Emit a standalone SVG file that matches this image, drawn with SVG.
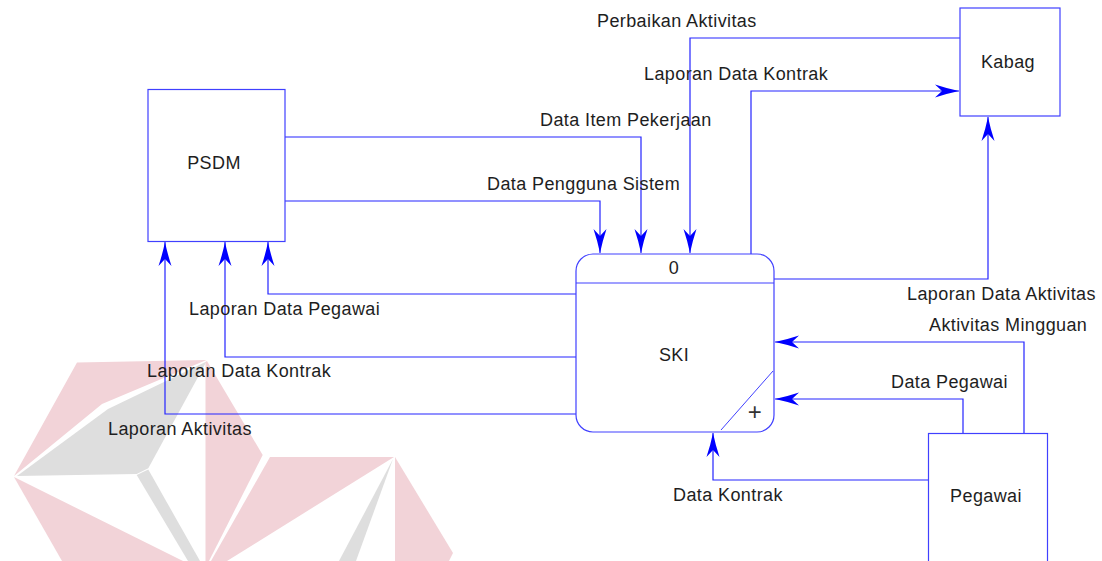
<svg xmlns="http://www.w3.org/2000/svg" width="1102" height="561" viewBox="0 0 1102 561">
<style>
.t{font-family:"Liberation Sans",Arial,Helvetica,sans-serif;font-size:18px;letter-spacing:0.4px;fill:#1e1e1e}
.c{text-anchor:middle}
.box{fill:none;stroke:#4040ff;stroke-width:1.2}
.ln{fill:none;stroke:#2424ff;stroke-width:1.2}
.pk{fill:#f2d3d8}
.gy{fill:#dedede}
</style>
<defs>
<marker id="arr" markerUnits="userSpaceOnUse" markerWidth="26" markerHeight="16" viewBox="0 0 26 16" refX="25" refY="8" orient="auto">
<path d="M25,8 Q13,5.5 1,1.5 L8,8 L1,14.5 Q13,10.5 25,8 Z" fill="#0000ff"/>
</marker>
</defs>
<rect width="1102" height="561" fill="#ffffff"/>
<g id="watermark">
<polygon class="pk" points="77,362.5 206.5,360 102,404 14,476"/>
<polygon class="gy" points="206.5,361.5 108,409 17,476 136.7,474 148.3,468.3"/>
<polygon class="pk" points="14,477 183,561 62,561"/>
<polygon class="gy" points="136.7,475 148.3,469.5 200,561 188,561"/>
<polygon class="pk" points="207,361 262.7,455 209,561 205.5,561 205.5,362"/>
<polygon class="pk" points="270,457 394,457 227,561 211,561"/>
<polygon class="gy" points="393,459 356,561 339,561"/>
<polygon class="pk" points="395,457 453,553 449,561 395,561"/>
</g>
<g id="connectors">
<path class="ln" d="M285,137 H641 V253" marker-end="url(#arr)"/>
<path class="ln" d="M285,201 H600 V253" marker-end="url(#arr)"/>
<path class="ln" d="M960,38 H690 V253" marker-end="url(#arr)"/>
<path class="ln" d="M751,254 V91 H959" marker-end="url(#arr)"/>
<path class="ln" d="M774,279 H988 V117" marker-end="url(#arr)"/>
<path class="ln" d="M1024,433 V342 H775" marker-end="url(#arr)"/>
<path class="ln" d="M963,433 V399 H775" marker-end="url(#arr)"/>
<path class="ln" d="M928,480 H713 V433" marker-end="url(#arr)"/>
<path class="ln" d="M576,294 H268 V242" marker-end="url(#arr)"/>
<path class="ln" d="M576,357 H225 V242" marker-end="url(#arr)"/>
<path class="ln" d="M576,414 H165 V242" marker-end="url(#arr)"/>
<text class="t" x="540" y="126">Data Item Pekerjaan</text>
<text class="t" x="487" y="190">Data Pengguna Sistem</text>
<text class="t" x="597" y="27">Perbaikan Aktivitas</text>
<text class="t" x="644" y="80">Laporan Data Kontrak</text>
<text class="t" x="907" y="300">Laporan Data Aktivitas</text>
<text class="t" x="929" y="331">Aktivitas Mingguan</text>
<text class="t" x="891" y="388">Data Pegawai</text>
<text class="t" x="673" y="501">Data Kontrak</text>
<text class="t" x="189" y="315">Laporan Data Pegawai</text>
<text class="t" x="147" y="377">Laporan Data Kontrak</text>
<text class="t" x="108" y="435">Laporan Aktivitas</text>
</g>
<g id="psdm">
<rect class="box" x="148" y="89.5" width="137" height="152"/>
<text class="t c" x="214" y="169">PSDM</text>
</g>
<g id="kabag">
<rect class="box" x="960" y="8" width="100" height="108"/>
<text class="t c" x="1008" y="68">Kabag</text>
</g>
<g id="pegawai">
<rect class="box" x="928.5" y="433.5" width="119" height="140"/>
<text class="t c" x="986" y="502">Pegawai</text>
</g>
<g id="ski">
<rect class="box" x="576" y="254" width="198" height="178" rx="17" ry="17"/>
<line class="box" x1="576" y1="283" x2="774" y2="283"/>
<line x1="773" y1="371" x2="721" y2="430" stroke="#4040ff" stroke-width="1"/>
<text class="t c" x="674" y="274">0</text>
<text class="t c" x="674" y="361">SKI</text>
<text class="t c" x="755" y="420" style="font-size:24px;fill:#333">+</text>
</g>
</svg>
